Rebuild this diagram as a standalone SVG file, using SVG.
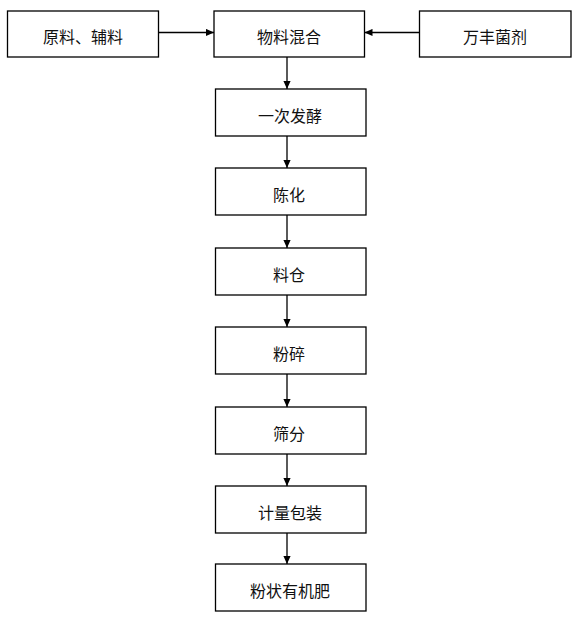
<svg xmlns="http://www.w3.org/2000/svg" width="579" height="628" viewBox="0 0 579 628">
<style>
.box{fill:#fff;stroke:#000;stroke-width:1.3}
.lbl{font-family:"Noto Sans CJK SC","Liberation Sans",sans-serif;font-size:16px;fill:#111;text-anchor:middle;dominant-baseline:central}
.con{stroke:#000;stroke-width:1.3;fill:none}
</style>
<defs>
<marker id="ah" viewBox="0 0 10 10" refX="10" refY="5" markerWidth="8" markerHeight="8" markerUnits="userSpaceOnUse" orient="auto">
<path d="M0,0.5 L10,5 L0,9.5 Z" fill="#000"/>
</marker>
</defs>
<rect width="579" height="628" fill="#fff"/>
<g id="connectors">
<line class="con" x1="158.5" y1="32.5" x2="214" y2="32.5" marker-end="url(#ah)"/>
<line class="con" x1="419.5" y1="32.5" x2="364.5" y2="32.5" marker-end="url(#ah)"/>
<line class="con" x1="287" y1="57" x2="287" y2="89" marker-end="url(#ah)"/>
<line class="con" x1="287" y1="136" x2="287" y2="168" marker-end="url(#ah)"/>
<line class="con" x1="287" y1="215" x2="287" y2="248" marker-end="url(#ah)"/>
<line class="con" x1="287" y1="295" x2="287" y2="327" marker-end="url(#ah)"/>
<line class="con" x1="287" y1="374" x2="287" y2="407" marker-end="url(#ah)"/>
<line class="con" x1="287" y1="454" x2="287" y2="486" marker-end="url(#ah)"/>
<line class="con" x1="287" y1="533" x2="287" y2="564" marker-end="url(#ah)"/>
</g>
<g id="n_raw"><rect class="box" x="7.5" y="11" width="151" height="46"/><text class="lbl" x="83" y="36">原料、辅料</text></g>
<g id="n_mix"><rect class="box" x="214" y="11" width="150.5" height="46"/><text class="lbl" x="289" y="36">物料混合</text></g>
<g id="n_agent"><rect class="box" x="419.5" y="11" width="151.5" height="46"/><text class="lbl" x="495" y="36">万丰菌剂</text></g>
<g id="n_ferm"><rect class="box" x="215.5" y="89" width="150.5" height="47"/><text class="lbl" x="290" y="115">一次发酵</text></g>
<g id="n_age"><rect class="box" x="215.5" y="168" width="150.5" height="47"/><text class="lbl" x="289" y="194">陈化</text></g>
<g id="n_bin"><rect class="box" x="215.5" y="248" width="150.5" height="47"/><text class="lbl" x="289" y="274">料仓</text></g>
<g id="n_crush"><rect class="box" x="215.5" y="327" width="150.5" height="47"/><text class="lbl" x="289" y="353">粉碎</text></g>
<g id="n_sieve"><rect class="box" x="215.5" y="407" width="150.5" height="47"/><text class="lbl" x="289" y="433">筛分</text></g>
<g id="n_pack"><rect class="box" x="215.5" y="486" width="150.5" height="47"/><text class="lbl" x="290" y="512">计量包装</text></g>
<g id="n_prod"><rect class="box" x="215.5" y="564" width="150.5" height="47"/><text class="lbl" x="290" y="590">粉状有机肥</text></g>
</svg>
